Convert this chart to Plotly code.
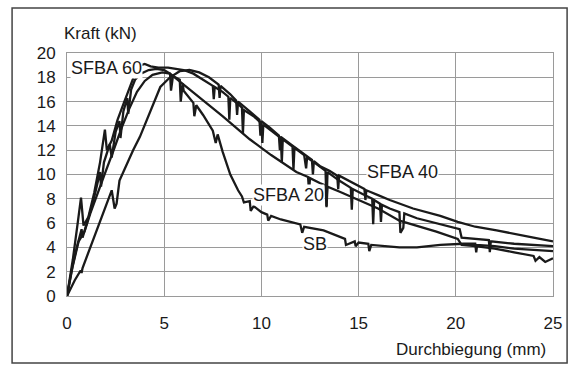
import plotly.graph_objects as go

# ---- data ----
sfba60_x = [0, 0.3, 0.55, 0.72, 0.85, 1.1, 1.4, 1.7, 1.95, 2.05, 2.3, 2.6, 2.9, 3.2, 3.5, 3.8, 4.0, 4.3, 4.7, 5.2, 5.6,
            6.0, 6.5, 7.0, 7.5, 7.55, 7.6, 8.0, 8.3, 8.35, 8.4, 8.8, 9.0, 9.05, 9.1, 9.6, 10.0, 10.05, 10.1, 10.6, 11.0,
            11.05, 11.1, 11.6, 11.65, 11.7, 12.2, 12.3, 12.35, 12.8, 13.3, 13.35, 13.4, 14.0, 14.6, 14.65, 14.7, 15.2,
            15.7, 15.75, 15.8, 16.1, 16.15, 16.2, 16.6, 17.1, 17.15, 17.3, 17.35, 18.0, 19.0, 19.7, 20.2, 20.3, 21.0,
            21.7, 21.75, 21.8, 23.0, 25.0]
sfba60_y = [0, 3.0, 6.0, 8.1, 5.8, 6.5, 8.5, 11.0, 13.7, 12.0, 12.8, 14.5, 15.8, 17.0, 18.3, 19.0, 19.1, 18.9, 18.8, 18.8, 18.7,
            18.6, 18.3, 17.8, 17.3, 16.2, 17.2, 16.8, 16.4, 14.5, 16.3, 15.8, 15.5, 13.4, 15.3, 14.8, 14.2, 12.6, 14.1, 13.5, 13.0,
            11.0, 12.9, 12.3, 10.4, 12.2, 11.6, 10.5, 11.4, 10.9, 10.3, 7.4, 10.2, 9.5, 8.9, 7.1, 8.8, 8.4,
            8.0, 5.9, 7.9, 7.6, 6.1, 7.5, 7.2, 6.9, 5.2, 5.6, 6.8, 6.4, 6.0, 5.7, 5.5, 4.8, 4.7,
            4.6, 3.6, 4.5, 4.3, 4.1]

sfba40_x = [0, 0.4, 0.7, 0.75, 0.8, 1.2, 1.6, 2.0, 2.3, 2.45, 2.55, 2.7, 3.0, 3.4, 3.75, 4.3, 4.8, 5.3, 5.8, 6.3, 6.8, 7.3,
            7.8, 7.85, 7.9, 8.4, 8.7, 8.75, 8.8, 9.4, 9.9, 9.95, 10.0, 10.4, 10.9, 10.95, 11.0, 11.5, 12.0, 12.6, 12.65,
            12.7, 13.0, 13.5, 13.9, 13.95, 14.0, 15.0, 15.3, 15.35, 15.4, 16.0, 16.6, 17.8, 19.2, 20.1,
            21.0, 22.1, 23.0, 24.0, 25.0]
sfba40_y = [0, 1.3, 2.1, 1.9, 2.3, 4.0, 5.7, 7.4, 8.7, 7.2, 7.6, 9.5, 10.6, 12.0, 13.1, 15.3, 17.2, 18.0, 18.5, 18.6, 18.4, 18.0,
            17.4, 16.3, 17.3, 16.6, 16.1, 14.9, 16.0, 15.2, 14.5, 13.2, 14.4, 13.9, 13.2, 12.0, 13.1, 12.5, 11.9, 11.2, 10.0,
            11.1, 10.7, 10.3, 9.9, 8.8, 9.9, 9.0, 8.8, 7.9, 8.7, 8.3, 7.9, 7.2, 6.6, 6.1,
            5.7, 5.4, 5.1, 4.8, 4.5]

sfba20_x = [0, 0.3, 0.6, 0.9, 1.2, 1.6, 2.0, 2.4, 2.8, 3.2, 3.6, 4.0, 4.4, 4.9, 5.3, 6.0, 7.0, 8.0, 9.4, 10.5, 11.8,
            12.4, 12.45, 12.5, 13.0, 13.3, 13.35, 13.4, 14.0, 15.0, 16.0, 17.1, 18.0, 19.0, 20.1, 20.3, 21.0, 22.0, 23.0,
            24.0, 24.1, 24.3, 24.6, 25.0]
sfba20_y = [0, 2.5, 4.5, 5.3, 6.8, 8.6, 10.3, 12.0, 13.8, 15.4, 16.8, 17.7, 18.2, 18.4, 18.3, 17.4, 16.1, 14.8, 12.9, 11.6, 10.2,
            9.8, 8.6, 9.7, 9.3, 9.1, 7.3, 9.0, 8.6, 7.9, 7.2, 6.2, 5.8, 5.3, 4.7, 4.2, 4.1, 3.9, 3.6,
            3.3, 2.9, 3.2, 2.8, 3.1]

sb_x = [0, 0.25, 0.5, 0.75, 0.8, 1.0, 1.3, 1.5, 1.7, 1.75, 1.9, 2.2, 2.3, 2.5, 2.7, 2.75, 2.9, 3.1, 3.15, 3.3, 3.5, 3.8,
        4.2, 4.6, 5.0, 5.3, 5.35, 5.45, 5.8, 5.85, 5.95, 6.0, 6.5, 6.55, 6.65, 7.0, 7.5, 7.65, 7.75, 8.0, 8.4, 8.8,
        9.0, 9.1, 9.4, 9.45, 9.6, 10.0, 10.3, 10.35, 10.5, 11.0, 11.5, 12.0, 12.1, 12.2, 13.2, 14.0, 14.3, 14.35,
        14.8, 14.85, 15.0, 15.5, 15.55, 15.65, 16.5, 17.1, 18.0, 19.2, 20.4, 21.0, 21.05, 21.1, 22.0, 23.0, 24.0, 25.0]
sb_y = [0, 2.2, 4.0, 5.5, 4.8, 5.8, 7.5, 8.8, 10.2, 9.0, 11.0, 12.5, 11.4, 13.5, 14.4, 13.0, 15.2, 16.3, 15.0, 17.0, 17.8, 18.3,
        18.6, 18.7, 18.6, 18.3, 16.9, 18.1, 17.8, 16.0, 17.5, 16.9, 15.9, 14.8, 15.7, 14.9, 13.6, 12.6, 13.3, 11.9, 10.0, 8.7,
        8.2, 7.7, 7.8, 7.0, 7.4, 6.9, 6.7, 6.2, 6.6, 6.3, 6.1, 5.9, 5.2, 5.7, 5.4, 4.9, 4.7, 4.2,
        4.5, 4.1, 4.4, 4.3, 3.7, 4.2, 4.1, 4.0, 4.0, 4.2, 4.3, 4.3, 3.6, 4.2, 4.1, 3.9, 3.8, 3.7]

series = [("SFBA 60", sfba60_x, sfba60_y), ("SFBA 40", sfba40_x, sfba40_y),
          ("SFBA 20", sfba20_x, sfba20_y), ("SB", sb_x, sb_y)]

x_ticks = [0, 5, 10, 15, 20, 25]
y_ticks = [0, 2, 4, 6, 8, 10, 12, 14, 16, 18, 20]

labels = [("SFBA 60", 0.15, 18.8), ("SFBA 40", 15.4, 10.2), ("SFBA 20", 9.5, 8.3), ("SB", 12.1, 4.3)]

FONT = "Liberation Sans, Arial, sans-serif"
INK = "#1a1a1a"

fig = go.Figure()
for name, xs, ys in series:
    fig.add_trace(go.Scatter(x=xs, y=ys, mode="lines", name=name,
                             line=dict(color=INK, width=2.3), showlegend=False))

for text, lx, ly in labels:
    fig.add_annotation(x=lx, y=ly, text=text, showarrow=False, xanchor="left", yanchor="middle",
                       font=dict(family=FONT, size=18, color=INK), bgcolor="white", borderpad=0)

fig.add_annotation(xref="paper", yref="paper", x=-0.01, y=1.082, text="Kraft (kN)", showarrow=False,
                   xanchor="left", yanchor="middle", font=dict(family=FONT, size=17, color=INK))
fig.add_annotation(xref="paper", yref="paper", x=0.99, y=-0.222, text="Durchbiegung (mm)", showarrow=False,
                   xanchor="right", yanchor="middle", font=dict(family=FONT, size=17, color=INK))

# outer frame
fig.add_shape(type="rect", xref="paper", yref="paper", x0=-0.113, x1=1.029, y0=-0.276, y1=1.185,
              line=dict(color="#444", width=1.5), layer="below")

fig.update_layout(
    width=574, height=365, margin=dict(l=67, r=21, t=53, b=69),
    paper_bgcolor="white", plot_bgcolor="white",
    xaxis=dict(range=[0, 25], tickvals=x_ticks, ticktext=[str(v) for v in x_ticks],
               showgrid=True, gridcolor="#9a9a9a", gridwidth=1, zeroline=False,
               showline=True, linecolor="#9a9a9a", mirror=True, ticks="",
               tickfont=dict(family=FONT, size=17, color=INK), ticklabelstandoff=12),
    yaxis=dict(range=[0, 20], tickvals=y_ticks, ticktext=[str(v) for v in y_ticks],
               showgrid=True, gridcolor="#9a9a9a", gridwidth=1, zeroline=False,
               showline=True, linecolor="#9a9a9a", mirror=True, ticks="",
               tickfont=dict(family=FONT, size=17, color=INK), ticklabelstandoff=7),
)

fig.write_html("out.html")
